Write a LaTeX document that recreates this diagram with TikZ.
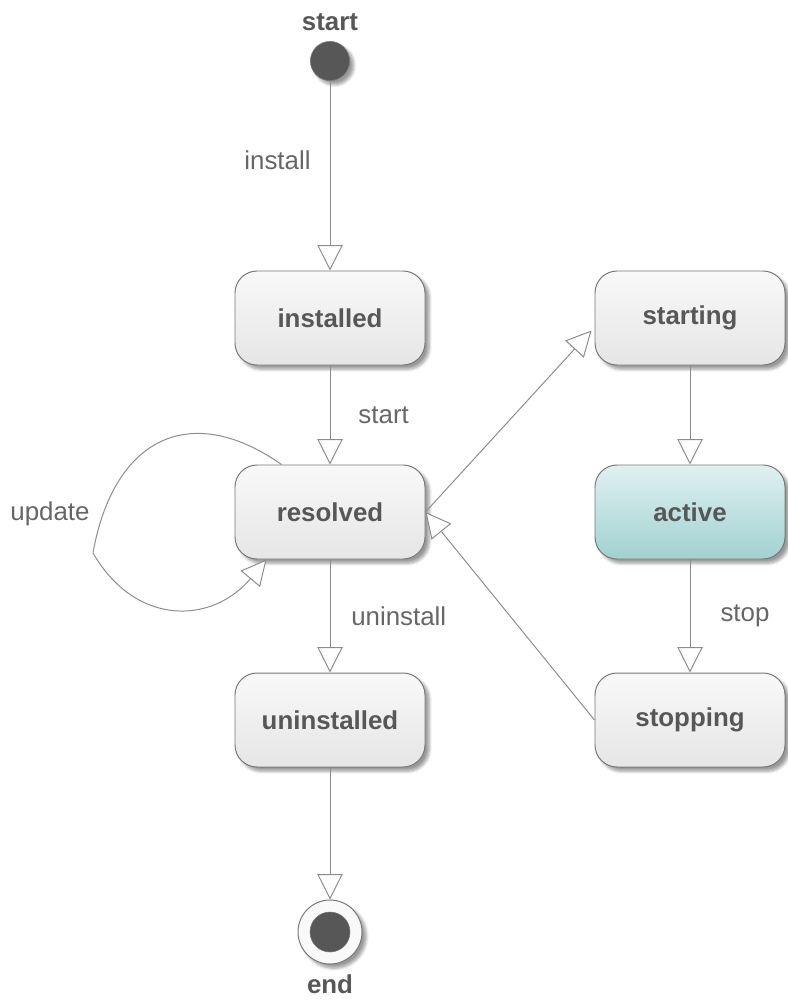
\documentclass[tikz,border=0pt]{standalone}
\usepackage{fontspec}
\setmainfont{Liberation Sans}
\usetikzlibrary{calc,arrows.meta,shadows.blur}

\begin{document}
\begin{tikzpicture}
  \definecolor{ink}    {rgb}{0.34,0.34,0.34};
  \definecolor{note}   {rgb}{0.40,0.40,0.40};
  \definecolor{wire}   {rgb}{0.55,0.55,0.55};
  \definecolor{rim}    {rgb}{0.47,0.47,0.47};
  \definecolor{paper}  {rgb}{0.975,0.975,0.975};
  \definecolor{shade}  {rgb}{0.90,0.90,0.90};
  \definecolor{tealtop}{rgb}{0.88,0.945,0.945};
  \definecolor{tealbot}{rgb}{0.63,0.82,0.82};
  \tikzstyle{state}=[rectangle,rounded corners=0.55cm,draw=rim,line width=0.7pt,
    top color=paper,bottom color=shade,minimum width=4.75cm,minimum height=2.35cm,
    font=\fontsize{18.4}{22}\selectfont\bfseries,text=ink,
    blur shadow={shadow xshift=3pt,shadow yshift=-3pt,shadow blur steps=6}]
  \tikzstyle{dot}=[circle,fill=ink,draw=rim,line width=0.4pt,inner sep=0pt,minimum size=0.98cm]
  \tikzstyle{ring}=[circle,fill=paper,draw=rim,line width=0.7pt,inner sep=0pt,minimum size=1.6cm,
    blur shadow={shadow xshift=3pt,shadow yshift=-3pt,shadow blur steps=6}]
  \tikzstyle{title}=[font=\fontsize{18.4}{22}\selectfont\bfseries,text=ink,inner sep=0pt]
  \tikzstyle{lbl}=[font=\fontsize{18.4}{22}\selectfont,text=note,inner sep=0pt]
  \tikzstyle{trans}=[draw=wire,line width=0.7pt,-{Triangle[width=18pt,length=18pt,fill=white]}]
  \useasboundingbox (0,0) rectangle (19.675,-25.025);
  % states
  \node (begin) at (8.25,-1.525) [dot,label={[title,label distance=0.25cm]above:start},
    blur shadow={shadow xshift=3pt,shadow yshift=-3pt,shadow blur steps=6}] {};
  \node (installed)   at ( 8.25,-7.95) [state] {installed};
  \node (resolved)    at ( 8.25,-12.8) [state] {resolved};
  \node (uninstalled) at ( 8.25,-18.0) [state] {uninstalled};
  \node (starting)    at (17.25,-7.95) [state] {starting};
  \node (active)      at (17.25,-12.8) [state,top color=tealtop,bottom color=tealbot] {active};
  \node (stopping)    at (17.25,-18.0) [state] {stopping};
  \node (finish) at (8.25,-23.3) [ring,label={[title,label distance=0.24cm]below:end}] {};
  \node (finishdot) at (finish) [dot,minimum size=1.0cm] {};
  % transitions
  \draw[trans] (begin) -- node[lbl,pos=0.42,anchor=east,xshift=-0.475cm] {install} (installed);
  \draw[trans] (installed) -- node[lbl,anchor=west,xshift=0.7cm] {start} (resolved);
  \draw[trans] (resolved) -- node[lbl,anchor=west,xshift=0.52cm] {uninstall} (uninstalled);
  \draw[trans] (uninstalled) -- (finish);
  \draw[trans] (starting) -- (active);
  \draw[trans] (active) -- node[lbl,anchor=west,xshift=0.75cm] {stop} (stopping);
  \draw[trans] (resolved.east) -- ($(starting.south west)+(-0.075,0.875)$);
  \draw[trans] (stopping.west) -- (resolved.east);
  \draw[trans] ($(resolved.north west)+(1.175,0)$) to[out=145,in=80,looseness=1.4]
    (2.325,-13.825) coordinate (bend)
    to[out=-60,in=-130,looseness=1.25] ($(resolved.south west)+(0.8,0)$);
  \node (update) at (1.25,-12.85) [lbl] {update};
\end{tikzpicture}
\end{document}
